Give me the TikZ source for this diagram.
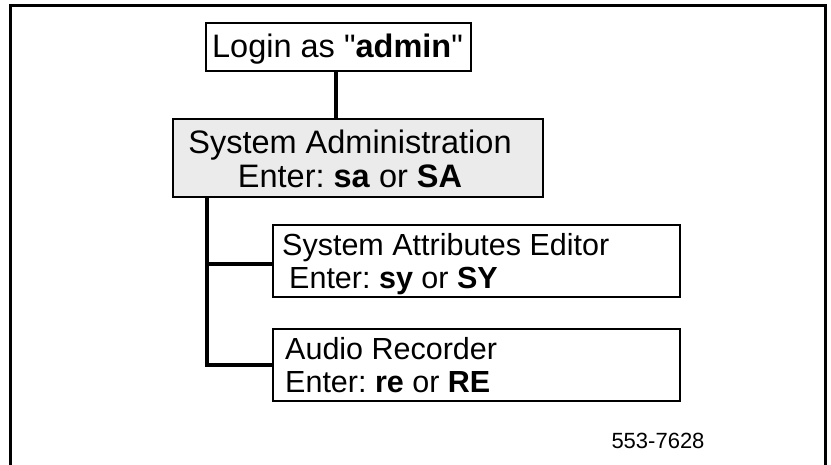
\documentclass[tikz,border=0pt]{standalone}
\usepackage{fontspec}
\setmainfont{Liberation Sans}[Ligatures=TeXOff]
\definecolor{boxgray}{RGB}{235,235,235}
\newcommand{\straightquote}{{\char34}}
\begin{document}
\frenchspacing
\begin{tikzpicture}[x=1pt,y=-1pt,
  menubox/.style={draw=black,line width=2.2pt,rectangle,inner sep=0pt,anchor=north west},
  link/.style={line width=4pt,line cap=butt,line join=miter},
  bigtxt/.style={inner sep=0pt,font=\fontsize{32.5}{34}\selectfont},
  subtxt/.style={inner sep=0pt,anchor=base west,font=\fontsize{30.5}{32}\selectfont}]
\useasboundingbox (0,0) rectangle (831,465);
% outer frame, open at the bottom
\draw[line width=3pt] (10.5,465) -- (10.5,5.5) -- (825.5,5.5) -- (825.5,465);

% boxes
\node[menubox,minimum width=265pt,minimum height=48pt] (login) at (205,22) {};
\node[menubox,fill=boxgray,minimum width=370pt,minimum height=78pt] (sa) at (172,118) {};
\node[menubox,minimum width=407pt,minimum height=72pt] (sae) at (272,224) {};
\node[menubox,minimum width=407pt,minimum height=72pt] (ar) at (272,328) {};

% box texts
\node[bigtxt,anchor=base] (logintxt) at (337.5,57.5) {Login as \straightquote\textbf{admin}\straightquote};
\node[bigtxt,anchor=base] (satxta) at (350,154) {System Administration};
\node[bigtxt,anchor=base] (satxtb) at (350,188) {Enter: \textbf{sa} or \textbf{SA}};
\node[subtxt] (saetxta) at (282,256) {System Attributes Editor};
\node[subtxt] (saetxtb) at (289,289) {Enter: \textbf{sy} or \textbf{SY}};
\node[subtxt] (artxta) at (285,360) {Audio Recorder};
\node[subtxt] (artxtb) at (285,392) {Enter: \textbf{re} or \textbf{RE}};

% connectors
\draw[link] ([xshift=-2.5pt]login.south) -- ([xshift=-2.5pt]login.south |- sa.north);
\coordinate (trunk) at ([xshift=35pt]sa.south west);
\draw[link] (trunk) |- (ar.west);
\draw[link] ([yshift=-3pt]sae.west) -- ([yshift=-3pt]sae.west -| trunk);

% figure number
\node[inner sep=0pt,anchor=base,font=\fontsize{22}{24}\selectfont] (fignum) at (658,448) {553-7628};
\end{tikzpicture}
\end{document}
